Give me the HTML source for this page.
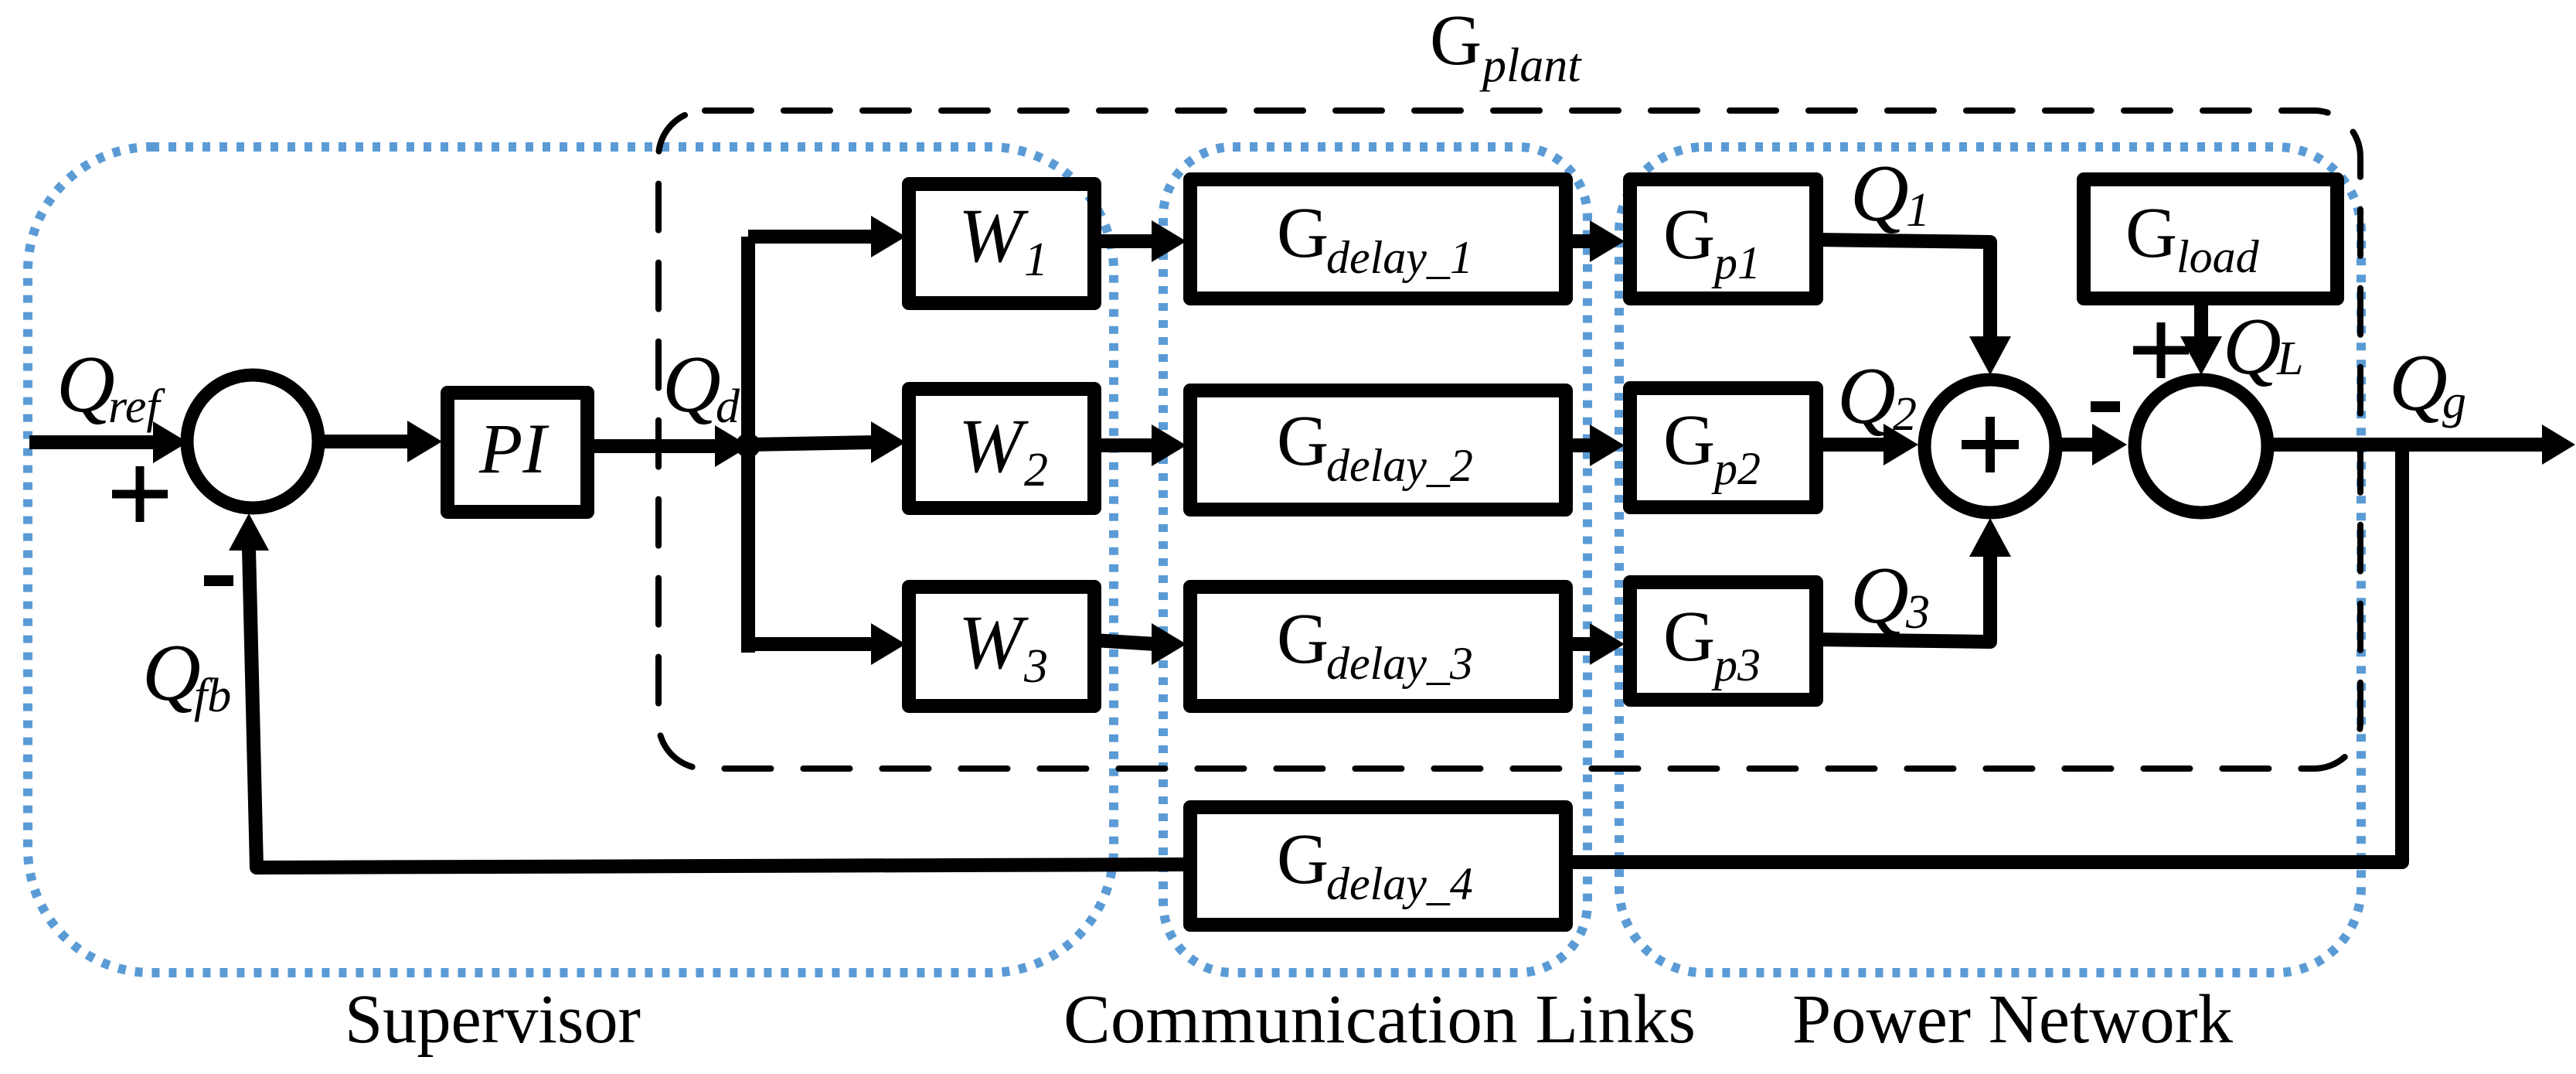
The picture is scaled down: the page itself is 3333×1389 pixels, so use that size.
<!DOCTYPE html>
<html><head><meta charset="utf-8"><style>
html,body{margin:0;padding:0;background:#fff}
svg{display:block}
svg text{font-family:"Liberation Serif","Times New Roman",Times,serif !important;fill:#000}
</style></head><body>
<svg width="3333" height="1389" viewBox="0 0 3333 1389" xmlns="http://www.w3.org/2000/svg" font-family="Liberation Serif, Times New Roman, serif">
<g fill="none" stroke="#5b9bd5" stroke-width="12" stroke-dasharray="10 12">
<rect x="36" y="190" width="1405" height="1068" rx="160" ry="160"/>
<rect x="1505" y="190" width="549" height="1068" rx="90" ry="90"/>
<rect x="2095" y="190" width="960" height="1068" rx="110" ry="110"/>
</g>
<rect x="852" y="143" width="2202" height="851" rx="60" ry="60" fill="none" stroke="#000" stroke-width="8" stroke-dasharray="60 42" stroke-linecap="round"/>
<g font-family="Liberation Serif, Times New Roman, serif">
<text x="1850" y="83" font-size="93">G</text>
<text x="1918" y="105" font-size="62" font-style="italic">plant</text>
</g>

<g fill="none" stroke="#000" stroke-width="18" stroke-linejoin="round">
<ellipse cx="327" cy="571" rx="85" ry="86" stroke-width="17"/>
<ellipse cx="2575" cy="577" rx="85" ry="86" stroke-width="17"/>
<ellipse cx="2848" cy="577" rx="86" ry="86" stroke-width="17"/>
<rect x="579" y="508" width="181" height="154"/>
<rect x="1176" y="238" width="240" height="154"/>
<rect x="1176" y="503" width="240" height="154"/>
<rect x="1176" y="759" width="240" height="154"/>
<rect x="1540" y="232" width="486" height="154"/>
<rect x="1540" y="505" width="486" height="154"/>
<rect x="1540" y="759" width="486" height="154"/>
<rect x="1540" y="1044" width="486" height="152"/>
<rect x="2109" y="232" width="241" height="154"/>
<rect x="2109" y="502" width="241" height="154"/>
<rect x="2109" y="753" width="241" height="152"/>
<rect x="2696" y="232" width="328" height="154"/>
<path d="M38 572 H200"/>
<path d="M412 571 H530"/>
<path d="M760 577 L930 577"/>
<path d="M968 575 L1130 572"/>
<path d="M968 306 V844"/>
<path d="M968 306 H1130"/>
<path d="M968 833 H1130"/>
<path d="M1416 312 H1495"/>
<path d="M1416 576 H1495"/>
<path d="M1416 828 L1495 833"/>
<path d="M2026 312 H2060"/>
<path d="M2026 576 H2060"/>
<path d="M2026 833 H2060"/>
<path d="M2350 310 L2575 313 V440"/>
<path d="M2350 827 L2575 830 V718"/>
<path d="M2350 575 H2440"/>
<path d="M2660 575 H2710"/>
<path d="M2848 386 V440"/>
<path d="M2934 575 H3290"/>
<path d="M3108 575 V1115 H2026"/>
<path d="M1540 1118 L332 1122 L322 710"/>
</g>
<circle cx="968" cy="576" r="16" fill="#000"/>
<g fill="#000">
<polygon points="243,572 198,545 198,599"/>
<polygon points="572,571 527,544 527,598"/>
<polygon points="970,577 925,550 925,604"/>
<polygon points="1172,572 1127,545 1127,599"/>
<polygon points="1172,306 1127,279 1127,333"/>
<polygon points="1172,833 1127,806 1127,860"/>
<polygon points="1535,312 1490,285 1490,339"/>
<polygon points="1535,576 1490,549 1490,603"/>
<polygon points="1535,833 1490,806 1490,860"/>
<polygon points="2102,312 2057,285 2057,339"/>
<polygon points="2102,576 2057,549 2057,603"/>
<polygon points="2102,833 2057,806 2057,860"/>
<polygon points="2575,485 2548,435 2602,435"/>
<polygon points="2575,670 2548,720 2602,720"/>
<polygon points="2482,575 2437,548 2437,602"/>
<polygon points="2752,575 2707,548 2707,602"/>
<polygon points="2848,485 2821,435 2875,435"/>
<polygon points="3332,575 3289,549 3289,601"/>
<polygon points="322,664 296,712 348,712"/>
</g>
<g stroke="#000" stroke-width="11">
<path d="M145 639 H217 M181 603 V675"/>
<path d="M2538 575 H2612 M2575 539 V611" stroke-width="12"/>
<path d="M2760 453 H2832 M2796 417 V489"/>
</g>
<rect x="264" y="744" width="38" height="14" fill="#000"/>
<rect x="2705" y="519" width="38" height="14" fill="#000"/>
<g font-family="Liberation Serif, Times New Roman, serif">
<g font-style="italic">
<text x="73" y="532" font-size="105">Q</text><text x="140" y="546" font-size="62">ref</text>
<text x="184" y="905" font-size="105">Q</text><text x="251" y="920" font-size="62">fb</text>
<text x="857" y="532" font-size="105">Q</text><text x="926" y="546" font-size="62">d</text>
<text x="620" y="611" font-size="92">PI</text>
<text x="1240" y="338" font-size="100">W</text><text x="1325" y="356" font-size="62">1</text>
<text x="1240" y="610" font-size="100">W</text><text x="1325" y="628" font-size="62">2</text>
<text x="1240" y="864" font-size="100">W</text><text x="1325" y="882" font-size="62">3</text>
</g>
<g font-size="93">
<text x="1652" y="332">G</text>
<text x="1652" y="601">G</text>
<text x="1652" y="857">G</text>
<text x="1652" y="1142">G</text>
<text x="2152" y="334">G</text>
<text x="2152" y="600">G</text>
<text x="2152" y="854">G</text>
<text x="2750" y="332">G</text>
</g>
<g font-size="60" font-style="italic">
<text x="1716" y="353">delay_1</text>
<text x="1716" y="622">delay_2</text>
<text x="1716" y="878">delay_3</text>
<text x="1716" y="1163">delay_4</text>
<text x="2218" y="360">p1</text>
<text x="2218" y="626">p2</text>
<text x="2218" y="880">p3</text>
<text x="2816" y="352">load</text>
</g>
<g font-style="italic">
<text x="2394" y="285" font-size="105">Q</text><text x="2466" y="292" font-size="62">1</text>
<text x="2377" y="547" font-size="105">Q</text><text x="2449" y="556" font-size="62">2</text>
<text x="2394" y="805" font-size="105">Q</text><text x="2466" y="812" font-size="62">3</text>
<text x="2876" y="483" font-size="105">Q</text><text x="2946" y="484" font-size="62">L</text>
<text x="3091" y="530" font-size="105">Q</text><text x="3160" y="540" font-size="62">g</text>
</g>
<g font-size="90">
<text x="446" y="1348" textLength="383" lengthAdjust="spacingAndGlyphs">Supervisor</text>
<text x="1376" y="1348" textLength="818" lengthAdjust="spacingAndGlyphs">Communication Links</text>
<text x="2319" y="1348" textLength="570" lengthAdjust="spacingAndGlyphs">Power Network</text>
</g>
</g>
</svg>
</body></html>
